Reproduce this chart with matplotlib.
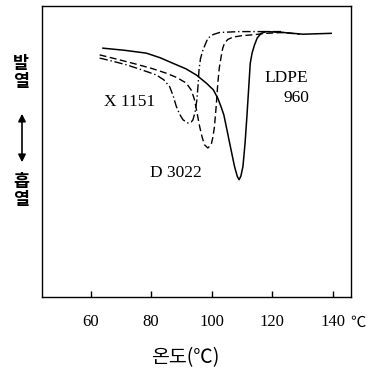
import matplotlib.pyplot as plt
from matplotlib.patches import FancyArrowPatch

# DSC curves, heat flow in arbitrary units (0 = bottom of frame, 100 = top)
ldpe_t = [64.1, 71.0, 78.4, 83.0, 87.2, 91.5, 94.9, 98.2, 100.5, 102.0, 103.2, 104.0,
          105.0, 105.9, 107.5, 108.4, 109.0, 109.6, 110.3, 111.0, 111.6, 112.2,
          112.7, 113.3, 114.1, 115.0, 116.3, 118.0, 123.5, 130.1, 139.4]
ldpe_y = [85.5, 84.8, 83.8, 82.2, 80.3, 78.4, 76.3, 73.5, 71.2, 68.3, 65.0, 62.5,
          57.5, 52.9, 44.9, 41.5, 40.3, 41.5, 44.9, 53.0, 62.1, 72.0,
          80.3, 83.8, 86.6, 89.0, 90.6, 91.2, 90.9, 90.3, 90.6]

d3022_t = [63.0, 68.0, 74.0, 80.0, 85.0, 88.5, 91.6, 93.3, 94.3, 95.2, 96.0, 96.8,
           97.6, 98.7, 99.8, 100.4, 100.9, 101.5, 102.0, 102.5, 103.1, 103.6,
           104.2, 105.3, 107.0, 110.0, 113.6, 118.0, 123.5, 129.0]
d3022_y = [83.2, 81.9, 80.3, 78.6, 76.9, 75.4, 73.5, 71.0, 67.8, 63.0, 58.6, 55.0,
           52.3, 51.2, 52.3, 55.0, 58.6, 66.0, 73.5, 78.8, 82.6, 85.4,
           87.2, 88.5, 89.3, 89.8, 90.1, 90.6, 90.9, 90.3]

x1151_t = [63.0, 67.0, 71.8, 76.5, 81.7, 84.2, 86.1, 87.3, 88.3, 89.4, 90.5, 92.1,
           93.3, 93.8, 94.5, 95.1, 95.5, 95.8, 96.3, 97.1, 98.7, 100.5,
           102.6, 109.2, 118.0, 123.5]
x1151_y = [82.1, 81.1, 79.8, 78.2, 76.3, 74.6, 72.3, 69.0, 65.5, 62.8, 60.9, 59.8,
           60.2, 60.9, 63.5, 67.8, 73.0, 78.1, 82.0, 84.9, 88.9, 90.2,
           90.9, 91.2, 91.2, 91.2]

xticks = [60, 80, 100, 120, 140]

serif = "Liberation Serif"
kr = ["Noto Sans CJK KR", "DejaVu Sans"]

fig = plt.figure(figsize=(3.72, 3.74), dpi=100)
ax = fig.add_axes([0.113, 0.206, 0.831, 0.778])

ax.plot(ldpe_t, ldpe_y, color="black", lw=1.1)
ax.plot(d3022_t, d3022_y, color="black", lw=1.0, dashes=(5, 2.5))
ax.plot(x1151_t, x1151_y, color="black", lw=1.0, dashes=(6, 2, 1, 2))

ax.set_xlim(44, 146)
ax.set_ylim(0, 100)
ax.set_xticks(xticks)
ax.set_xticklabels([str(t) for t in xticks], fontfamily=serif, fontsize=12)
ax.set_yticks([])
ax.tick_params(axis="x", direction="in", length=4, width=1, pad=12)
for s in ax.spines.values():
    s.set_linewidth(1.0)

ax.text(72.9, 67.0, "X 1151", fontfamily=serif, fontsize=12.5, ha="center", va="center")
ax.text(88.3, 42.6, "D 3022", fontfamily=serif, fontsize=12.5, ha="center", va="center")
ax.text(124.6, 75.3, "LDPE", fontfamily=serif, fontsize=12.5, ha="center", va="center")
ax.text(127.9, 68.4, "960", fontfamily=serif, fontsize=12.5, ha="center", va="center")

fig.text(358 / 372, 1 - 322 / 374, "℃", family=kr, fontsize=11, ha="center", va="center")
fig.text(185 / 372, 1 - 358 / 374, "온도(℃)", family=kr, fontsize=14, ha="center", va="center")

# y label: upright stacked characters with a double arrow
fig.text(21 / 372, 1 - 73 / 374, "발\n열", family=kr, fontsize=12.5, ha="center", va="center",
         linespacing=1.05, fontweight="bold")
fig.text(21 / 372, 1 - 191 / 374, "흡\n열", family=kr, fontsize=12.5, ha="center", va="center",
         linespacing=1.05, fontweight="bold")
fig.add_artist(FancyArrowPatch(
    (22 / 372, 1 - 111 / 374), (22 / 372, 1 - 165 / 374), transform=fig.transFigure,
    arrowstyle="<|-|>", mutation_scale=11, color="black", lw=1.2))

fig.savefig("out.png", dpi=100)
